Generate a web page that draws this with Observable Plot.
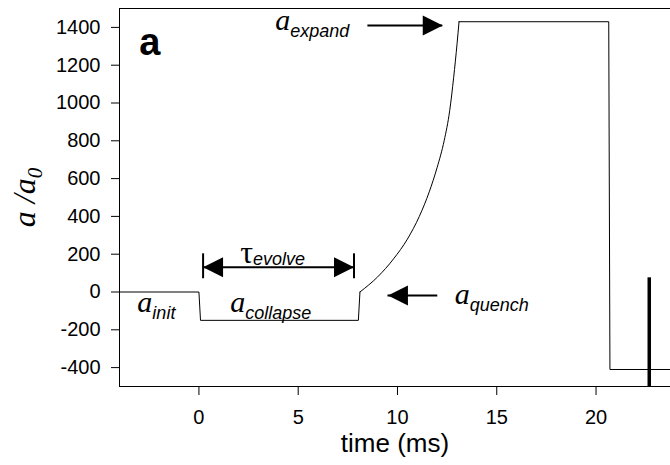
<!DOCTYPE html>
<html><head><meta charset="utf-8">
<script src="https://cdn.jsdelivr.net/npm/d3@7"></script>
<script src="https://cdn.jsdelivr.net/npm/@observablehq/plot@0.6"></script>
<style>body{margin:0;background:#fff}</style>
</head><body><div id="chart"></div>
<script>
// step + curve trace: time (ms) and a/a0
const stepTime  = [-4, 0, 0.08, 8.03, 8.11];
const stepRatio = [0, 0, -150, -150, 0];
const curveTime  = [8.11, 9.0, 9.8, 10.5, 11.1, 11.6, 12.0, 12.35, 12.63, 12.83, 13.00, 13.10];
const curveRatio = [0, 80, 175, 280, 400, 530, 660, 800, 960, 1136, 1313, 1430];
const tailTime  = [13.10, 20.64, 20.70, 23.75];
const tailRatio = [1430, 1430, -410, -410];

const xTicks = [0, 5, 10, 15, 20];
const yTicks = [-400, -200, 0, 200, 400, 600, 800, 1000, 1200, 1400];

// annotation labels: main glyph | subscript
const labelX    = [-3.10, 1.58, 3.84, 12.88, 2.08];
const labelY    = [-108, -108, 1384, -61, 156];
const labelText = ["a|init", "a|collapse", "a|expand", "a|quench", "τ|evolve"];

// arrows
const shaftX1 = [8.51, 9.52, 0.21];
const shaftX2 = [12.28, 12.03, 7.81];
const shaftY  = [1410, -18, 131];
const headX   = [12.28, 9.52, 0.21, 7.81];
const headY   = [1410, -18, 131, 131];
const headDir = [1, -1, -1, 1];
const barX = [0.21, 7.81];
const barY1 = [70, 70];
const barY2 = [202, 202];

// marker line
const markerX = [22.68];
const markerTop = [75];

const toRows = (xs, ys) => xs.map((x, i) => ({x, y: ys[i]}));
const stepData = toRows(stepTime, stepRatio);
const curveData = toRows(curveTime, curveRatio);
const tailData = toRows(tailTime, tailRatio);
const labels = labelX.map((x, i) => ({x, y: labelY[i], text: labelText[i]}));
const shafts = shaftX1.map((x1, i) => ({x1, x2: shaftX2[i], y: shaftY[i]}));
const heads = headX.map((x, i) => ({x, y: headY[i], dir: headDir[i]}));
const bars = barX.map((x, i) => ({x, y1: barY1[i], y2: barY2[i]}));

const headRight = {draw(ctx, size) { const r = Math.sqrt(size / Math.PI); ctx.moveTo(0, 0); ctx.lineTo(-2 * r, -r); ctx.lineTo(-2 * r, r); ctx.closePath(); }};
const headLeft  = {draw(ctx, size) { const r = Math.sqrt(size / Math.PI); ctx.moveTo(0, 0); ctx.lineTo(2 * r, -r); ctx.lineTo(2 * r, r); ctx.closePath(); }};

const chart = Plot.plot({
  width: 670, height: 465,
  marginLeft: 119, marginRight: 0, marginTop: 8, marginBottom: 79,
  style: {fontFamily: "'Liberation Sans', Arial, sans-serif", fontSize: "20px", color: "black", background: "white"},
  x: {domain: [-4, 23.75], ticks: xTicks, tickSize: 9, tickPadding: 14, label: null, tickFormat: d => String(d)},
  y: {domain: [-500, 1500], ticks: yTicks, tickSize: 8, tickPadding: 11, label: null, tickFormat: d => String(d)},
  marks: [
    Plot.ruleX([-4], {stroke: "black", strokeWidth: 1}),
    Plot.ruleY([1500, -500], {stroke: "black", strokeWidth: 1}),
    Plot.line(stepData, {x: "x", y: "y", stroke: "black", strokeWidth: 1}),
    Plot.line(curveData, {x: "x", y: "y", stroke: "black", strokeWidth: 1, curve: "monotone-x"}),
    Plot.line(tailData, {x: "x", y: "y", stroke: "black", strokeWidth: 1}),
    Plot.ruleX(markerX, {x: d => d, y1: -500, y2: (d, i) => markerTop[i], stroke: "black", strokeWidth: 3.5}),
    Plot.ruleY(shafts, {x1: "x1", x2: "x2", y: "y", stroke: "black", strokeWidth: 2}),
    Plot.ruleX(bars, {x: "x", y1: "y1", y2: "y2", stroke: "black", strokeWidth: 2}),
    Plot.dot(heads.filter(d => d.dir > 0), {x: "x", y: "y", r: 10, symbol: headRight, fill: "black", stroke: "none"}),
    Plot.dot(heads.filter(d => d.dir < 0), {x: "x", y: "y", r: 10, symbol: headLeft, fill: "black", stroke: "none"}),
    Plot.text(labels, {x: "x", y: "y", text: "text", textAnchor: "start", lineAnchor: "bottom", fontSize: 30}),
    Plot.text(["a"], {x: -3.0, y: 1252, text: d => d, textAnchor: "start", lineAnchor: "bottom", fontSize: 38, fontWeight: "bold"}),
    Plot.text(["time (ms)"], {frameAnchor: "bottom", dy: 65, text: d => d, lineAnchor: "bottom", fontSize: 26}),
    Plot.text(["a /a|0"], {frameAnchor: "left", dx: -95, rotate: -90, text: d => d, textAnchor: "middle", lineAnchor: "middle", fontSize: 32})
  ]
});

const NS = "http://www.w3.org/2000/svg";
chart.querySelectorAll("text").forEach(el => {
  const s = el.textContent;
  if (!s.includes("|")) return;
  const [main, sub] = s.split("|");
  const isAxis = main.includes("/");
  el.textContent = "";
  const t1 = document.createElementNS(NS, "tspan");
  t1.setAttribute("font-family", "'Liberation Serif', 'Times New Roman', serif");
  t1.setAttribute("font-style", main === "τ" ? "normal" : "italic");
  t1.setAttribute("font-size", isAxis ? "32" : (main === "τ" ? "32" : "30"));
  t1.textContent = main;
  const t2 = document.createElementNS(NS, "tspan");
  t2.setAttribute("font-family", isAxis ? "'Liberation Serif', 'Times New Roman', serif" : "'Liberation Sans', Arial, sans-serif");
  t2.setAttribute("font-style", "italic");
  t2.setAttribute("font-size", isAxis ? "21" : "18");
  t2.setAttribute("dy", main === "τ" ? "2" : "7");
  t2.textContent = sub;
  el.appendChild(t1); el.appendChild(t2);
});
document.getElementById("chart").appendChild(chart);
</script>
</body></html>
